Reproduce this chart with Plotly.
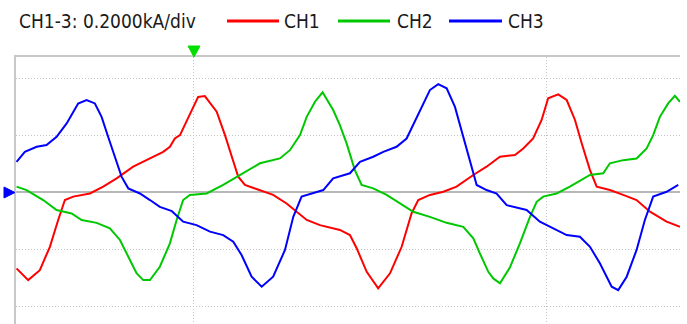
import plotly.graph_objects as go

# ---- data (time in ms, current in kA) ----
ch1_t = [-10.05, -9.39, -8.73, -8.16, -7.69, -7.31, -6.84, -5.89, -5.14, -4.38, -3.44, -2.49, -1.74, -1.36, -1.08, -0.79, -0.32, 0.24, 0.62, 1.29, 1.76, 2.14, 2.51, 2.89, 3.74, 4.49, 5.25, 5.82, 6.39, 7.14, 8.27, 8.84, 9.22, 9.79, 10.44, 11.11, 11.77, 12.33, 12.71, 13.37, 14.13, 14.88, 15.83, 16.58, 17.34, 18.19, 18.66, 19.22, 19.70, 20.07, 20.64, 21.12, 21.59, 21.97, 22.44, 22.82, 23.57, 24.32, 25.08, 25.84, 26.78, 27.54]
ch1_i = [-0.267, -0.308, -0.273, -0.191, -0.097, -0.027, -0.015, -0.004, 0.020, 0.049, 0.090, 0.119, 0.142, 0.160, 0.189, 0.201, 0.260, 0.335, 0.338, 0.283, 0.201, 0.125, 0.055, 0.026, 0.008, -0.009, -0.039, -0.068, -0.097, -0.115, -0.132, -0.150, -0.196, -0.279, -0.337, -0.284, -0.191, -0.074, -0.027, -0.009, 0.002, 0.020, 0.061, 0.090, 0.125, 0.131, 0.154, 0.189, 0.254, 0.330, 0.344, 0.324, 0.254, 0.172, 0.078, 0.020, 0.008, -0.009, -0.027, -0.068, -0.103, -0.121]

ch2_t = [-10.05, -9.48, -8.54, -7.78, -6.93, -6.36, -5.51, -4.76, -4.19, -3.72, -3.25, -2.87, -2.49, -1.93, -1.36, -0.98, -0.61, -0.23, 0.72, 1.66, 2.61, 3.74, 4.87, 5.44, 6.01, 6.39, 6.86, 7.29, 7.89, 8.27, 8.65, 9.12, 9.50, 10.16, 10.92, 11.67, 12.43, 13.37, 14.32, 15.26, 15.83, 16.20, 16.68, 16.96, 17.34, 17.90, 18.47, 19.04, 19.42, 19.79, 20.55, 21.30, 22.44, 23.19, 23.57, 24.32, 25.08, 25.65, 26.02, 26.40, 26.87, 27.25, 27.54]
ch2_i = [0.020, 0.008, -0.027, -0.062, -0.074, -0.097, -0.107, -0.126, -0.167, -0.226, -0.284, -0.308, -0.308, -0.261, -0.179, -0.097, -0.027, -0.009, -0.004, 0.026, 0.061, 0.102, 0.119, 0.148, 0.201, 0.265, 0.318, 0.351, 0.289, 0.236, 0.172, 0.078, 0.026, 0.014, -0.009, -0.039, -0.068, -0.086, -0.107, -0.121, -0.161, -0.214, -0.279, -0.302, -0.319, -0.264, -0.179, -0.086, -0.033, -0.015, -0.004, 0.020, 0.061, 0.067, 0.102, 0.113, 0.119, 0.154, 0.201, 0.265, 0.312, 0.339, 0.318]

ch3_t = [-10.05, -9.58, -8.91, -8.35, -7.78, -7.21, -6.56, -6.08, -5.61, -5.23, -4.86, -4.48, -4.10, -3.72, -3.06, -2.49, -1.93, -1.25, -0.61, 0.15, 0.91, 1.66, 2.23, 2.70, 3.27, 3.84, 4.49, 5.16, 5.63, 6.10, 6.76, 7.33, 7.89, 8.56, 8.84, 9.41, 10.16, 10.73, 11.48, 12.05, 12.71, 13.37, 13.84, 14.32, 14.79, 15.26, 15.73, 16.02, 16.58, 17.15, 17.72, 18.19, 18.85, 19.60, 20.36, 21.12, 21.87, 22.44, 23.00, 23.38, 23.67, 24.04, 24.52, 25.08, 25.55, 26.02, 26.78, 27.44]
ch3_i = [0.107, 0.142, 0.160, 0.166, 0.195, 0.242, 0.312, 0.324, 0.312, 0.265, 0.195, 0.125, 0.055, 0.014, -0.004, -0.027, -0.051, -0.066, -0.103, -0.115, -0.138, -0.150, -0.173, -0.220, -0.296, -0.331, -0.296, -0.202, -0.086, -0.015, -0.004, 0.008, 0.049, 0.061, 0.067, 0.107, 0.125, 0.142, 0.160, 0.189, 0.277, 0.359, 0.380, 0.365, 0.300, 0.195, 0.090, 0.026, 0.008, -0.004, -0.045, -0.051, -0.062, -0.103, -0.126, -0.150, -0.156, -0.191, -0.249, -0.296, -0.331, -0.343, -0.296, -0.202, -0.097, -0.015, 0.002, 0.026]

series_names = ["CH1", "CH2", "CH3"]
series_colors = ["#ff0000", "#00c800", "#0000ff"]
scale_label = "CH1-3: 0.2000kA/div"
y_grid = [-0.4, -0.2, 0.2, 0.4]
x_grid = [0, 20]

# ---- layout geometry ----
W, H = 687, 324
ML, MR, MT, MB = 16, 7, 57, 0
PW, PH = W - ML - MR, H - MT - MB


def px(x):
    return (x - ML) / PW


def py(y):
    return (H - MB - y) / PH


fig = go.Figure()
for t, i, name, col in zip([ch1_t, ch2_t, ch3_t], [ch1_i, ch2_i, ch3_i], series_names, series_colors):
    fig.add_trace(go.Scatter(x=t, y=i, mode="lines", name=name,
                             line=dict(color=col, width=2), showlegend=False,
                             hoverinfo="skip"))

FONT = "DejaVu Sans Condensed, Liberation Sans Narrow, Liberation Sans, sans-serif"
FS = 19

annotations = [dict(text=scale_label, xref="paper", yref="paper", x=px(17), y=py(21),
                    xanchor="left", yanchor="middle", showarrow=False,
                    font=dict(family=FONT, size=FS, color="#1a1a1a"))]
shapes = []
leg_x = [(227, 279, 282), (338, 390, 395), (449, 502, 506)]
for (x0, x1, xt), name, col in zip(leg_x, series_names, series_colors):
    shapes.append(dict(type="line", xref="paper", yref="paper", x0=px(x0), x1=px(x1),
                       y0=py(21), y1=py(21), line=dict(color=col, width=3)))
    annotations.append(dict(text=name, xref="paper", yref="paper", x=px(xt), y=py(21),
                            xanchor="left", yanchor="middle", showarrow=False,
                            font=dict(family=FONT, size=FS, color="#1a1a1a")))

# trigger marker (green, down) and ground marker (blue, right)
shapes.append(dict(type="path", xref="paper", yref="paper",
                   path=f"M {px(188)} {py(46)} L {px(200)} {py(46)} L {px(194)} {py(57)} Z",
                   fillcolor="#00e000", line=dict(color="#00e000", width=1)))
shapes.append(dict(type="path", xref="paper", yref="paper",
                   path=f"M {px(4)} {py(187)} L {px(15)} {py(192.5)} L {px(4)} {py(198)} Z",
                   fillcolor="#0000ff", line=dict(color="#0000ff", width=1)))

fig.update_layout(
    width=W, height=H,
    margin=dict(l=ML, r=MR, t=MT, b=MB, pad=0),
    paper_bgcolor="white", plot_bgcolor="white",
    showlegend=False, hovermode=False,
    annotations=annotations, shapes=shapes,
    xaxis=dict(range=[-10.08, 27.54], tickvals=x_grid, showticklabels=False, ticks="",
               showgrid=True, gridcolor="#c4c4c4", gridwidth=1, griddash="1px,2px",
               zeroline=False, side="top", showline=True, linecolor="#c8c8c8", linewidth=2),
    yaxis=dict(range=[-0.462, 0.475], tickvals=y_grid, showticklabels=False, ticks="",
               showgrid=True, gridcolor="#c4c4c4", gridwidth=1, griddash="1px,2px",
               zeroline=True, zerolinecolor="#b8b8b8", zerolinewidth=2,
               showline=True, linecolor="#c8c8c8", linewidth=2),
)

fig.write_html("out.html", config={"displayModeBar": False},
               post_script="document.body.style.margin='0';document.body.style.overflow='hidden';")
